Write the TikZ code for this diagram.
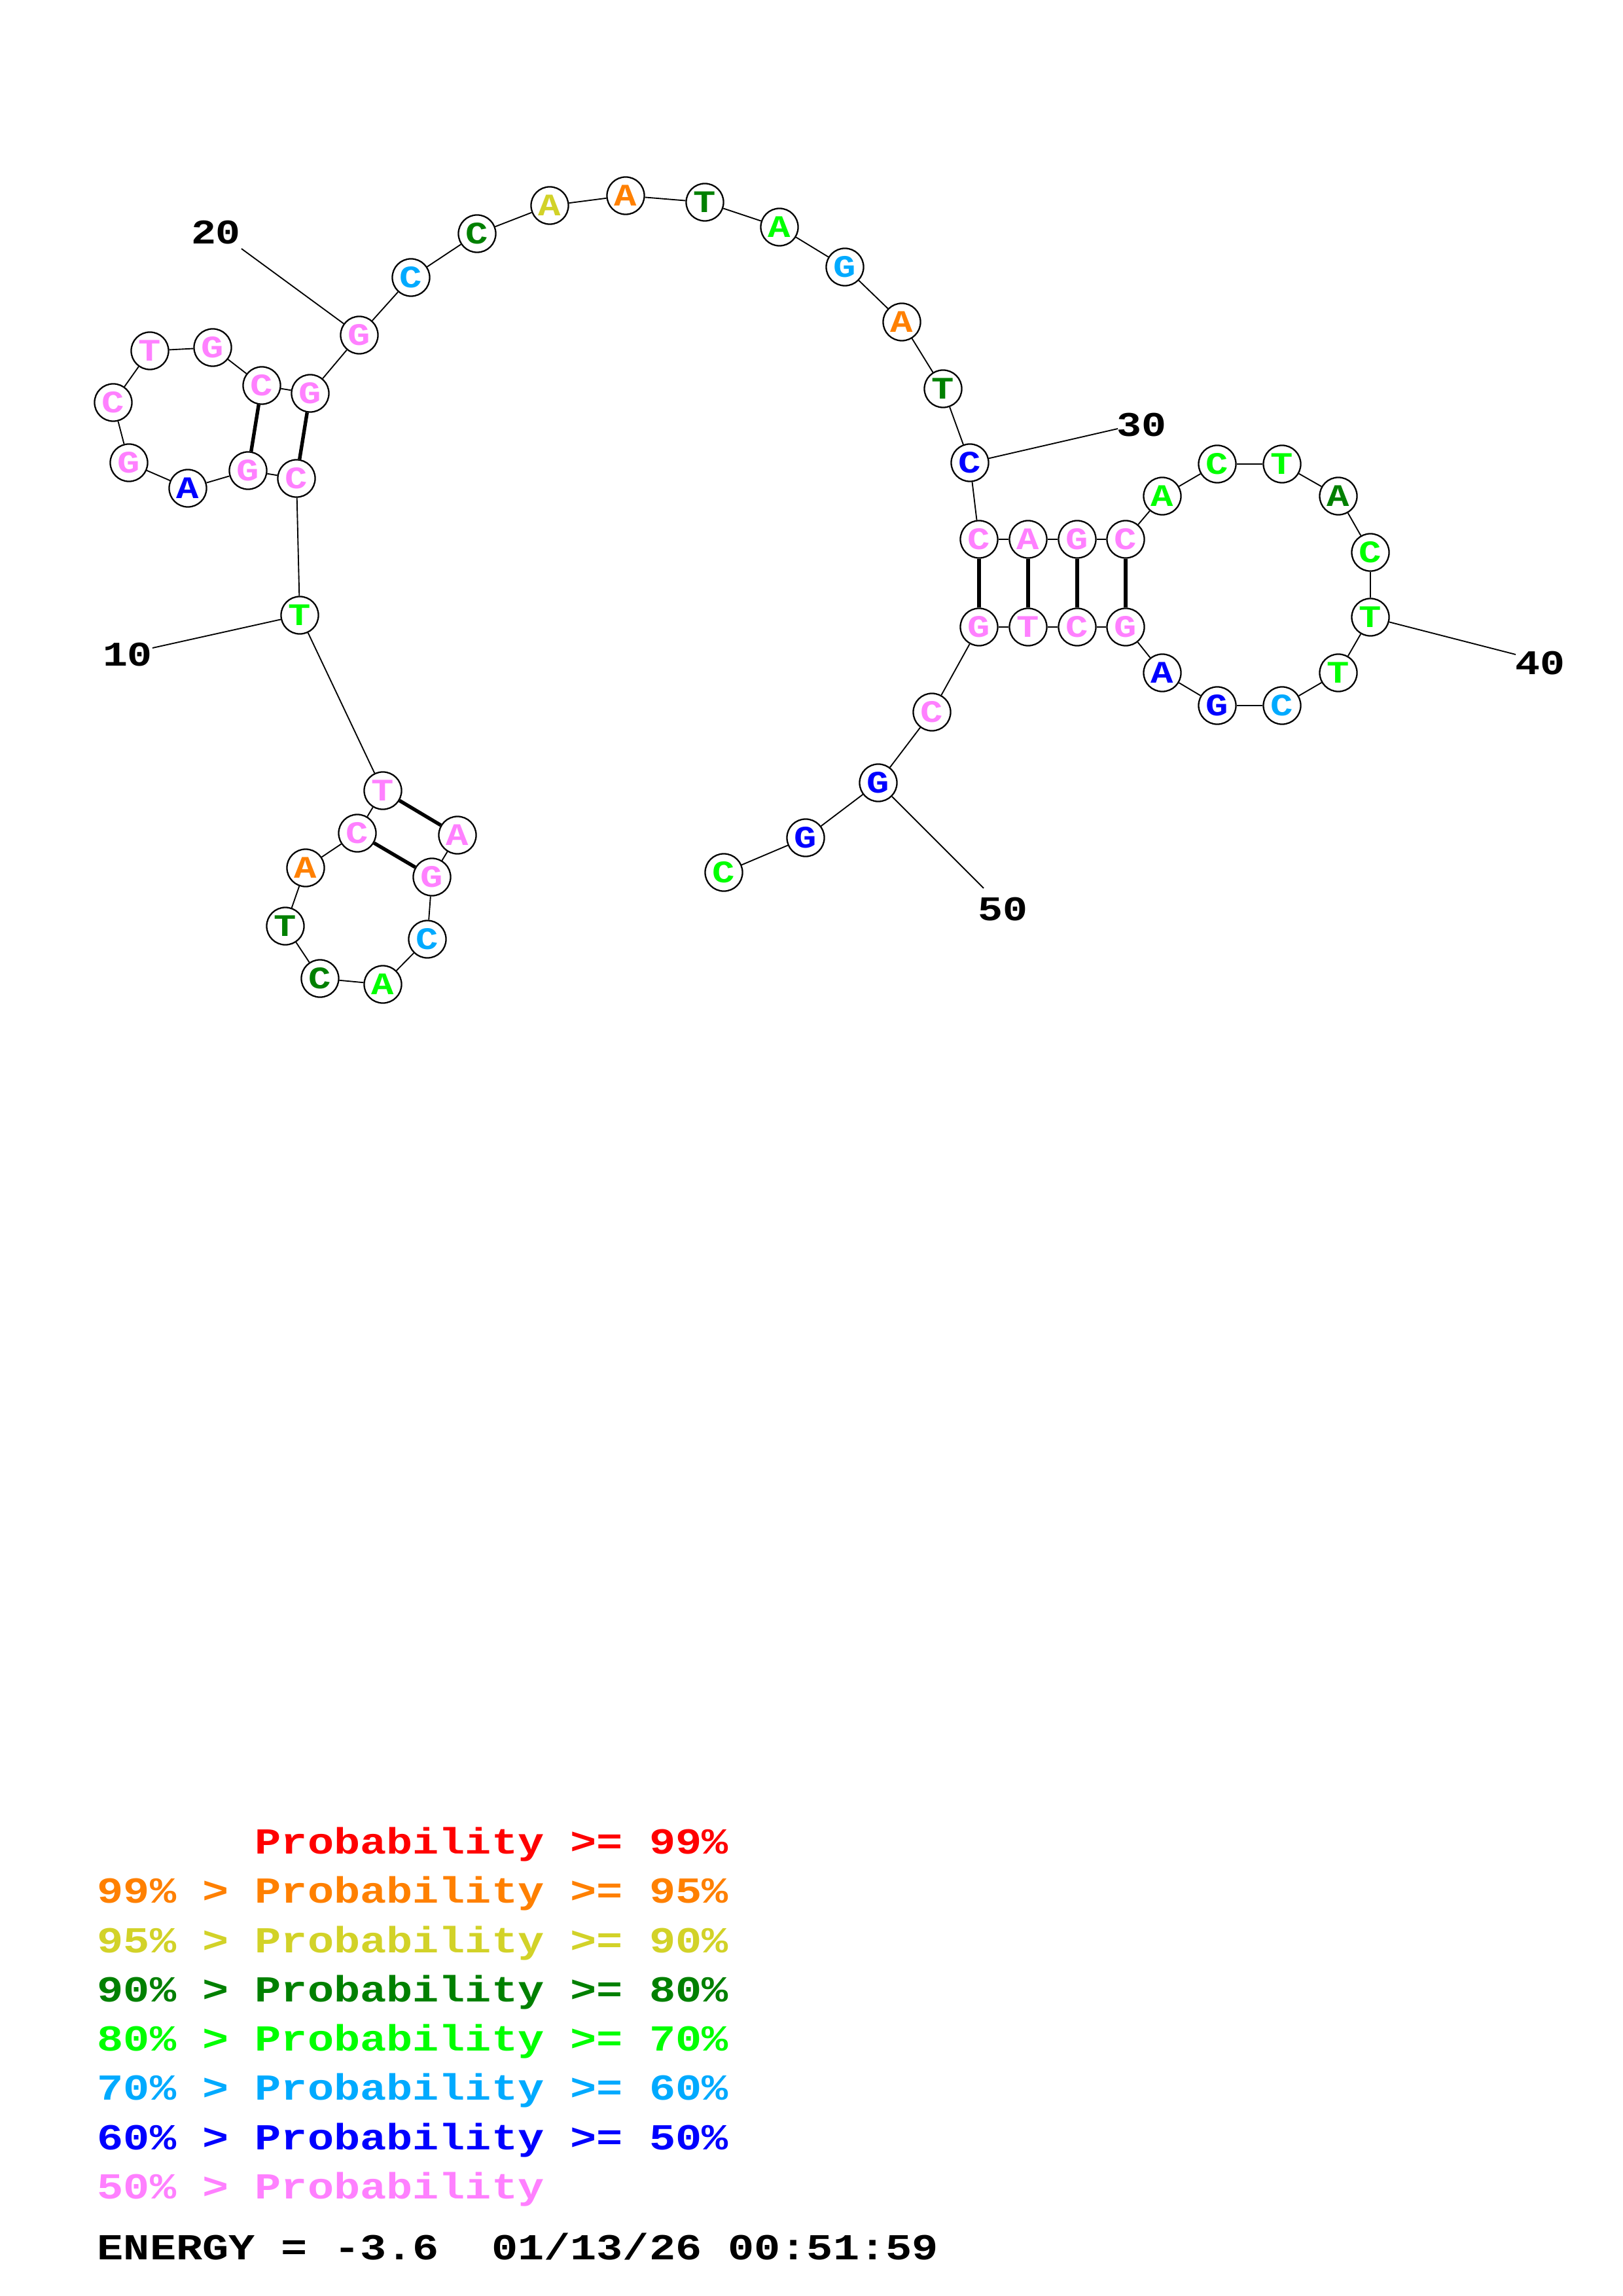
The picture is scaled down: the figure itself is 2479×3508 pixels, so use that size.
\documentclass[tikz,border=0pt]{standalone}
\usepackage{fontspec}
\newfontfamily\monofont[FakeStretch=1.195]{Liberation Mono}
\definecolor{cred}{RGB}{255,0,0}
\definecolor{corange}{RGB}{255,128,0}
\definecolor{cyellow}{RGB}{210,210,40}
\definecolor{cdkgreen}{RGB}{0,128,0}
\definecolor{cgreen}{RGB}{0,255,0}
\definecolor{csky}{RGB}{0,170,255}
\definecolor{cblue}{RGB}{0,0,255}
\definecolor{cpink}{RGB}{255,128,255}
\begin{document}
\begin{tikzpicture}[x=0.24pt,y=-0.24pt,
  nt/.style={circle,draw=black,line width=0.55pt,fill=white,minimum size=13.7pt,inner sep=0pt,
    font=\monofont\bfseries\fontsize{11.5}{11.5}\selectfont},
  bb/.style={line width=0.45pt,draw=black},
  pr/.style={line width=1.3pt,draw=black},
  numlbl/.style={inner sep=0pt,font=\monofont\bfseries\fontsize{12.7}{12.7}\selectfont},
  leg/.style={anchor=base west,inner sep=0pt,font=\monofont\bfseries\fontsize{13.44}{13.44}\selectfont}]
\useasboundingbox[fill=white] (0,0) rectangle (2479,3508);
% nucleotides
\foreach \i/\x/\y/\l/\c in {
 1/699/1276/A/cpink, 2/660/1340/G/cpink, 3/653/1435/C/csky, 4/585/1504/A/cgreen,
 5/489/1495/C/cdkgreen, 6/436/1415/T/cdkgreen, 7/467/1326/A/corange, 8/546/1273/C/cpink,
 9/585/1208/T/cpink, 10/458/940/T/cgreen, 11/453/731/C/cpink, 12/379/719/G/cpink,
 13/287/746/A/cblue, 14/197/707/G/cpink, 15/173/615/C/cpink, 16/229/536/T/cpink,
 17/325/531/G/cpink, 18/400/589/C/cpink, 19/474/601/G/cpink, 20/549/512/G/cpink,
 21/628/424/C/csky, 22/729/357/C/cdkgreen, 23/840/314/A/cyellow, 24/956/299/A/corange,
 25/1077/309/T/cdkgreen, 26/1191/347/A/cgreen, 27/1291/408/G/csky, 28/1378/492/A/corange,
 29/1441/594/T/cdkgreen, 30/1482/707/C/cblue, 31/1496/824/C/cpink, 32/1571/824/A/cpink,
 33/1646/824/G/cpink, 34/1720/824/C/cpink, 35/1776/758/A/cgreen, 36/1860/709/C/cgreen,
 37/1959/709/T/cgreen, 38/2045/758/A/cdkgreen, 39/2094/844/C/cgreen, 40/2094/943/T/cgreen,
 41/2045/1028/T/cgreen, 42/1959/1078/C/csky, 43/1860/1078/G/cblue, 44/1776/1028/A/cblue,
 45/1720/958/G/cpink, 46/1646/958/C/cpink, 47/1571/958/T/cpink, 48/1496/958/G/cpink,
 49/1424/1088/C/cpink, 50/1342/1196/G/cblue, 51/1231/1280/G/cblue, 52/1106/1333/C/cgreen}
 \node[nt,text=\c] (n\i) at (\x,\y) {\l};
% backbone
\foreach \i [evaluate=\i as \j using int(\i+1)] in {1,...,51}
 \draw[bb] (n\i) -- (n\j);
% base pairs
\foreach \a/\b in {1/9,2/8,11/19,12/18,31/48,32/47,33/46,34/45}
 \draw[pr] (n\a) -- (n\b);
% position labels
\foreach \k/\lx/\ly/\ex/\ey in {10/195/1000/233/990, 20/330/355/369/380, 30/1744/649/1708/655,
 40/2353/1013/2316/1000, 50/1532/1389/1503/1357}{
 \node[numlbl] (l\k) at (\lx,\ly) {\k};
 \coordinate (e\k) at (\ex,\ey);
 \draw[bb] (e\k) -- (n\k);
}
% legend
\node[leg,text=cred] (g1) at (148,2832) {\hphantom{99\%\ >\ }Probability >= 99\%};
\node[leg,text=corange] (g2) at (148,2907) {99\% > Probability >= 95\%};
\node[leg,text=cyellow] (g3) at (148,2983) {95\% > Probability >= 90\%};
\node[leg,text=cdkgreen] (g4) at (148,3058) {90\% > Probability >= 80\%};
\node[leg,text=cgreen] (g5) at (148,3133) {80\% > Probability >= 70\%};
\node[leg,text=csky] (g6) at (148,3208) {70\% > Probability >= 60\%};
\node[leg,text=cblue] (g7) at (148,3284) {60\% > Probability >= 50\%};
\node[leg,text=cpink] (g8) at (148,3359) {50\% > Probability};
\node[leg,text=black] (g9) at (148,3452) {ENERGY = -3.6\ \ 01/13/26 00:51:59};
\end{tikzpicture}
\end{document}
